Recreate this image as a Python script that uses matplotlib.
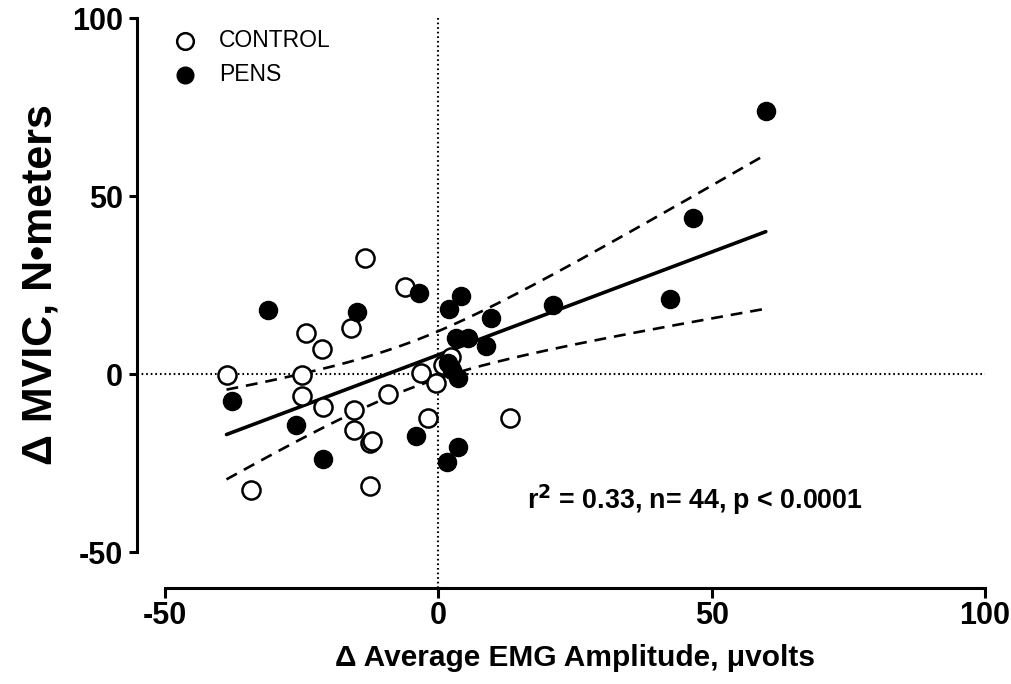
import numpy as np
import matplotlib
matplotlib.use('Agg')
import matplotlib.pyplot as plt

# values
control_x = [-38.75, -34.2, -24.2, -24.9, -24.9, -21.2, -21.1, -13.4, -15.9, -15.4, -15.4,
             -12.5, -12.2, -12.5, -9.2, -6.1, -3.1, -1.9, -0.5, 13.1, 2.4, 0.9]
control_y = [-0.3, -32.6, 11.6, -0.3, -6.1, 6.9, -9.2, 32.5, 12.8, -10.1, -15.7,
             -19.3, -18.8, -31.5, -5.6, 24.4, 0.2, -12.4, -2.6, -12.4, 4.9, 2.5]
pens_x = [-31.1, -37.7, -26.1, -21.1, -14.9, -3.5, -4.0, 4.2, 1.9, 9.7, 3.2,
          5.5, 8.7, 1.8, 3.6, 3.6, 1.5, 21.0, 42.4, 46.6, 59.9, 2.5]
pens_y = [18.0, -7.6, -14.3, -23.9, 17.5, 22.7, -17.4, 21.9, 18.2, 15.8, 10.0,
          10.0, 7.9, 3.0, -1.2, -20.4, -24.6, 19.4, 21.1, 43.7, 74.0, 1.1]

x_ticks = [-50, 0, 50, 100]
y_ticks = [-50, 0, 50, 100]
tick_labels = ['-50', '0', '50', '100']
stats_text = r'r$^{\mathbf{2}}$ = 0.33, n= 44, p < 0.0001'

# linear fit with confidence band
xa = np.array(control_x + pens_x)
ya = np.array(control_y + pens_y)
n = len(xa)
slope, icpt = np.polyfit(xa, ya, 1)
resid = ya - (slope * xa + icpt)
s_err = np.sqrt(np.sum(resid ** 2) / (n - 2))
t_val = 2.018 * 1.25  # widened a bit to match the printed band
xf = np.linspace(xa.min(), xa.max(), 200)
yf = slope * xf + icpt
ci = t_val * s_err * np.sqrt(1.0 / n + (xf - xa.mean()) ** 2 / np.sum((xa - xa.mean()) ** 2))

plt.rcParams['font.family'] = ['Liberation Sans', 'DejaVu Sans']

fig = plt.figure(figsize=(10.11, 6.84), dpi=100)
ax = fig.add_axes([165 / 1011, (684 - 552) / 684, (985 - 165) / 1011, (552 - 18) / 684])
ax.set_xlim(-50, 100)
ax.set_ylim(-50, 100)

# reference lines at zero, running to the offset spines
ax.axvline(0, ymin=-36 / 534, ymax=1, color='black', lw=1.5, ls=(0, (0.8, 1.4)), clip_on=False, zorder=1)
ax.axhline(0, xmin=-28 / 820, xmax=1, color='black', lw=1.5, ls=(0, (0.8, 1.4)), clip_on=False, zorder=1)

ax.plot(xf, yf, color='black', lw=2.6, solid_capstyle='round', zorder=3)
ax.plot(xf, yf + ci, color='black', lw=1.9, ls=(0, (4.5, 3)), zorder=3)
ax.plot(xf, yf - ci, color='black', lw=1.9, ls=(0, (4.5, 3)), zorder=3)

ax.scatter(control_x, control_y, s=170, facecolors='white', edgecolors='black', linewidths=1.8,
           zorder=4, label='CONTROL')
ax.scatter(pens_x, pens_y, s=170, facecolors='black', edgecolors='black', linewidths=1.0,
           zorder=5, label='PENS')

for side in ['top', 'right']:
    ax.spines[side].set_visible(False)
# offsets are in points: 28 px and 36 px at 100 dpi
ax.spines['left'].set_position(('outward', 28 * 0.72))
ax.spines['bottom'].set_position(('outward', 36 * 0.72))
ax.spines['left'].set_linewidth(2.2)
ax.spines['bottom'].set_linewidth(2.2)
ax.spines['left'].set_capstyle('projecting')
ax.spines['bottom'].set_capstyle('projecting')

ax.set_xticks(x_ticks)
ax.set_yticks(y_ticks)
ax.set_xticklabels(tick_labels, fontweight='bold')
ax.set_yticklabels(tick_labels, fontweight='bold')
ax.tick_params(axis='x', direction='out', length=7, width=2.2, pad=2, labelsize=22)
ax.tick_params(axis='y', direction='out', length=6, width=2.2, pad=4, labelsize=22)

ax.set_xlabel('\u0394 Average EMG Amplitude, \u03bcvolts', fontsize=21.5, fontweight='bold', labelpad=10)
ax.set_ylabel('\u0394 MVIC, N\u2022meters', fontsize=31, fontweight='bold', labelpad=8)

ax.text(16.2, -35.4, stats_text, fontsize=19.3, fontweight='bold', ha='left', va='center')

leg = ax.legend(loc='upper left', bbox_to_anchor=(-0.015, 0.996), frameon=False, fontsize=16.5,
                handletextpad=0.5, labelspacing=0.48, markerscale=0.92, borderaxespad=0)

fig.savefig('out.png', dpi=100, facecolor='white')
